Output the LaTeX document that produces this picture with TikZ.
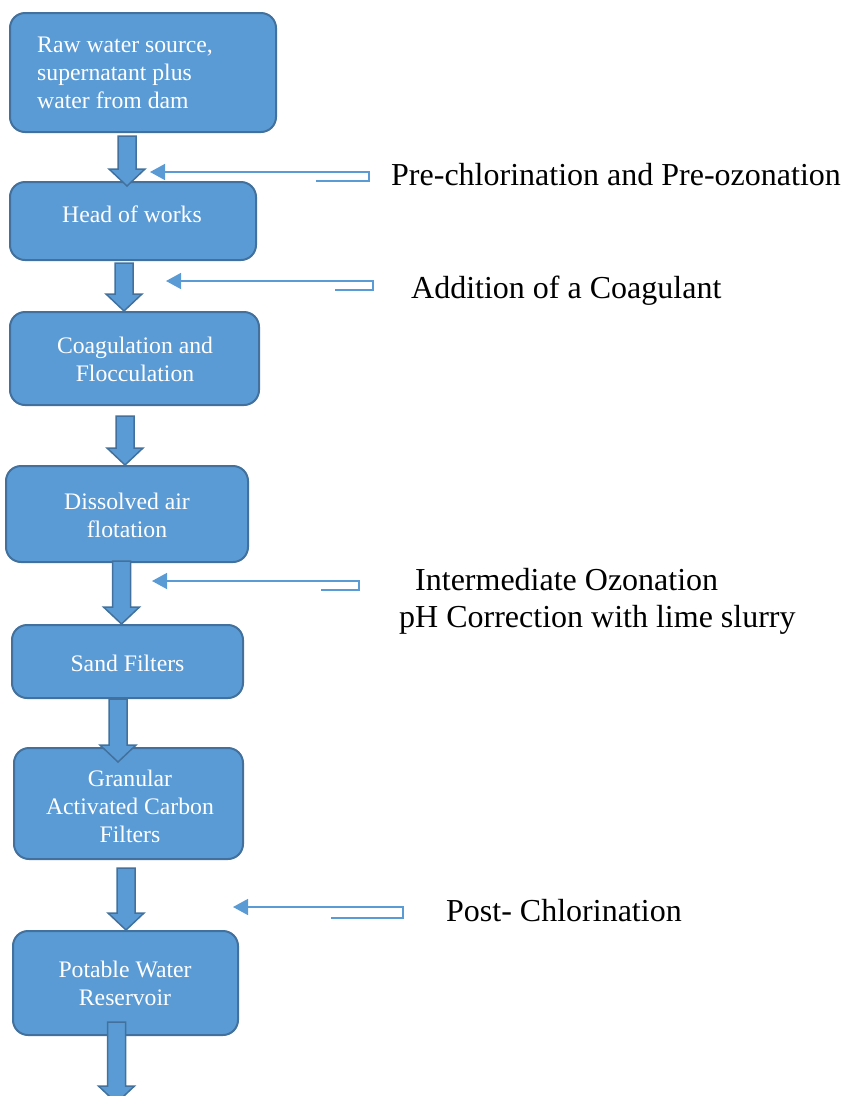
\documentclass[tikz,border=0pt]{standalone}
\usepackage{fontspec}
\setmainfont{Liberation Serif}
\usetikzlibrary{arrows.meta,calc}
\definecolor{boxblue}{RGB}{91,155,213}
\definecolor{boxedge}{RGB}{65,113,156}
\newcommand\flowarrow[3]{%
  \path[blockarrow] let \p1=#2, \p2=#3 in
    ({#1pt-9pt},\y1) -- ({#1pt+9pt},\y1) -- ({#1pt+9pt},{\y2+17pt})
    -- ({#1pt+18pt},{\y2+17pt}) -- ({#1pt},\y2) -- ({#1pt-18pt},{\y2+17pt})
    -- ({#1pt-9pt},{\y2+17pt}) -- cycle;}
\begin{document}
\begin{tikzpicture}[x=1pt,y=-1pt,
  stagebox/.style={draw=boxedge,fill=boxblue,line width=2pt,rounded corners=15pt,inner sep=0pt},
  stagetext/.style={text=white,inner sep=0pt,align=center,font=\fontsize{23.7}{28}\selectfont},
  blockarrow/.style={draw=boxedge,fill=boxblue,line width=1.5pt,line join=miter},
  dosearrow/.style={draw=boxblue,line width=1.5pt,-{Triangle[length=15pt,width=16pt]}},
  dosetext/.style={anchor=base west,inner sep=0pt,font=\fontsize{32}{38}\selectfont}]
\clip (0,0) rectangle (843,1096);
\node[stagebox,minimum width=266pt,minimum height=119pt] (b1) at (143,72.5) {};
\node[stagebox,minimum width=246pt,minimum height=78pt] (b2) at (133,221) {};
\node[stagebox,minimum width=249pt,minimum height=93pt] (b3) at (134.5,358.5) {};
\node[stagebox,minimum width=242pt,minimum height=96pt] (b4) at (127,514) {};
\node[stagebox,minimum width=231pt,minimum height=73pt] (b5) at (127.5,661.5) {};
\node[stagebox,minimum width=229pt,minimum height=111pt] (b6) at (128.5,803.5) {};
\node[stagebox,minimum width=225pt,minimum height=104pt] (b7) at (125.5,983) {};
\node[stagetext,anchor=west,align=left] (t1) at (37,73) {Raw water source,\\supernatant plus\\water from dam};
\node[stagetext] (t2) at (132,214) {Head of works};
\node[stagetext] (t3) at (135,359) {Coagulation and\\Flocculation};
\node[stagetext] (t4) at (127,515.5) {Dissolved air\\flotation};
\node[stagetext] (t5) at (127.5,663) {Sand Filters};
\node[stagetext] (t6) at (130,806.5) {Granular\\Activated Carbon\\Filters};
\node[stagetext] (t7) at (125,983.5) {Potable Water\\Reservoir};
\coordinate (outlet) at (116.5,1103);
\flowarrow{127}{([yshift=-3pt]b1.south)}{([yshift=-5pt]b2.north)}
\flowarrow{124}{([yshift=-2pt]b2.south)}{(b3.north)}
\flowarrow{125}{([yshift=-10pt]b3.south)}{(b4.north)}
\flowarrow{121.5}{([yshift=2pt]b4.south)}{(b5.north)}
\flowarrow{118}{(b5.south)}{([yshift=-15pt]b6.north)}
\flowarrow{126}{([yshift=-8pt]b6.south)}{(b7.north)}
\flowarrow{116.5}{([yshift=14pt]b7.south)}{(outlet)}
\coordinate (s1) at (316,181); \coordinate (s1tip) at (150,172);
\coordinate (s2) at (335,290); \coordinate (s2tip) at (166,281);
\coordinate (s3) at (321,590); \coordinate (s3tip) at (152,581);
\coordinate (s4) at (331,918); \coordinate (s4tip) at (233,907);
\draw[dosearrow] (s1) -- (369,181) -- (369,172) -- (s1tip);
\draw[dosearrow] (s2) -- (373,290) -- (373,281) -- (s2tip);
\draw[dosearrow] (s3) -- (359,590) -- (359,581) -- (s3tip);
\draw[dosearrow] (s4) -- (403,918) -- (403,907) -- (s4tip);
\node[dosetext] (l1) at (391,185) {Pre-chlorination and Pre-ozonation};
\node[dosetext] (l2) at (411,298) {Addition of a Coagulant};
\node[dosetext] (l3) at (415,590) {Intermediate Ozonation};
\node[dosetext] (l4) at (399,627) {pH Correction with lime slurry};
\node[dosetext] (l5) at (446,921) {Post- Chlorination};
\end{tikzpicture}
\end{document}
